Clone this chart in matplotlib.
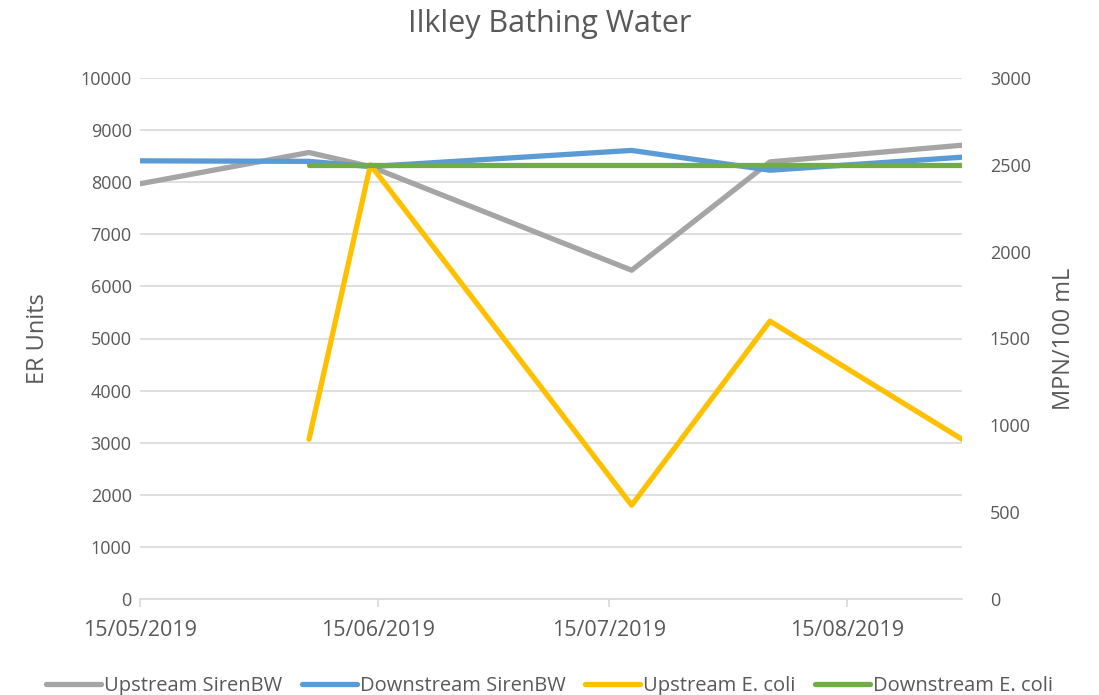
import pandas as pd
import matplotlib.pyplot as plt
import matplotlib.dates as mdates

plt.rcParams['font.family'] = ['Open Sans', 'DejaVu Sans']

# Data
er_dates = pd.to_datetime(['15/05/2019', '06/06/2019', '14/06/2019', '18/07/2019', '05/08/2019', '30/08/2019'], dayfirst=True)
up_siren = [7970, 8570, 8300, 6310, 8390, 8710]
down_siren = [8410, 8400, 8300, 8610, 8230, 8480]

ecoli_dates = er_dates[1:]
up_ecoli = [920, 2500, 540, 1600, 920]
down_ecoli = [2500, 2500, 2500, 2500, 2500]

tick_dates = pd.to_datetime(['15/05/2019', '15/06/2019', '15/07/2019', '15/08/2019'], dayfirst=True)

text_col = '#595959'
grid_col = '#d9d9d9'

fig = plt.figure(figsize=(10.99, 6.95), dpi=100)
ax = fig.add_axes([140/1099, 1-599/695, 822/1099, 521/695])
ax2 = ax.twinx()

lw = 3.8
l1, = ax.plot(er_dates, up_siren, color='#A5A5A5', lw=lw, solid_capstyle='round', label='Upstream SirenBW')
l2, = ax.plot(er_dates, down_siren, color='#5B9BD5', lw=lw, solid_capstyle='round', label='Downstream SirenBW')
l3, = ax2.plot(ecoli_dates, up_ecoli, color='#FFC000', lw=lw, solid_capstyle='round', label='Upstream E. coli')
l4, = ax2.plot(ecoli_dates, down_ecoli, color='#70AD47', lw=lw, solid_capstyle='round', label='Downstream E. coli')

ax.set_xlim(er_dates[0], er_dates[-1])
ax.set_ylim(0, 10000)
ax2.set_ylim(0, 3000)
ax.set_yticks(range(0, 10001, 1000))
ax2.set_yticks(range(0, 3001, 500))
ax.set_xticks(tick_dates)
ax.xaxis.set_major_formatter(mdates.DateFormatter('%d/%m/%Y'))

ax.grid(axis='y', color=grid_col, lw=1.2)
ax.set_axisbelow(True)
for a in (ax, ax2):
    for s in ('top', 'left', 'right'):
        a.spines[s].set_visible(False)
    a.spines['bottom'].set_color(grid_col)
    a.spines['bottom'].set_linewidth(1.2)
    a.tick_params(colors=text_col, labelsize=13, length=0, pad=6)
ax2.tick_params(axis='y', pad=20)
ax.tick_params(axis='x', length=6, color=grid_col, width=1.2, pad=9, labelsize=15.5)
ax2.spines['bottom'].set_visible(False)

ax.set_ylabel('ER Units', fontsize=17, color=text_col, labelpad=22)
ax2.set_ylabel('MPN/100 mL', fontsize=17, color=text_col, labelpad=15, rotation=90)
fig.suptitle('Ilkley Bathing Water', fontsize=22, color=text_col, y=0.987)

fig.legend(handles=[l1, l2, l3, l4], loc='lower center', ncol=4, frameon=False,
           fontsize=14.5, labelcolor=text_col, bbox_to_anchor=(0.5, -0.027),
           handlelength=2.75, handletextpad=0.15, columnspacing=0.95)

fig.savefig('out.png', dpi=100)
